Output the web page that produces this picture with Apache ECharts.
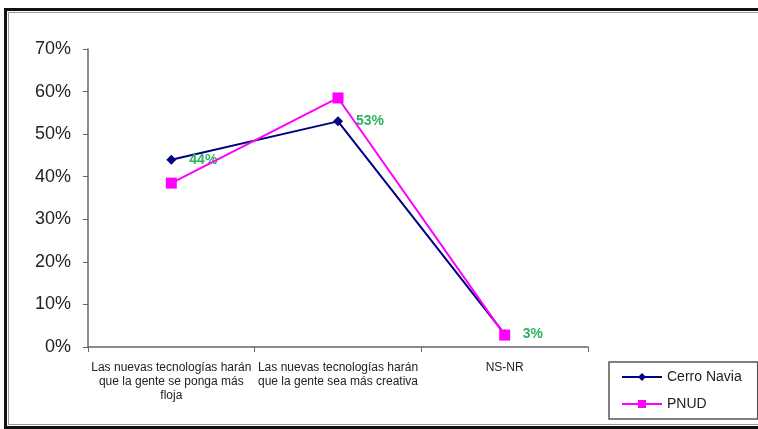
<!DOCTYPE html>
<html>
<head>
<meta charset="utf-8">
<script src="https://cdn.jsdelivr.net/npm/echarts@6/dist/echarts.min.js"></script>
<style>
html,body{margin:0;padding:0;background:#fff;}
#chart{width:758px;height:429px;}
</style>
</head>
<body>
<div id="chart"></div>
<script>
var categories = [
  'Las nuevas tecnologías harán\nque la gente se ponga más\nfloja',
  'Las nuevas tecnologías harán\nque la gente sea más creativa',
  'NS-NR'
];
var cerroNavia = [0.44, 0.53, 0.03];
var pnud = [0.385, 0.585, 0.028];
var yTicks = [0, 0.1, 0.2, 0.3, 0.4, 0.5, 0.6, 0.7];

var chart = echarts.init(document.getElementById('chart'));
chart.setOption({
  animation: false,
  backgroundColor: '#fff',
  textStyle: { fontFamily: 'Liberation Sans, Arial, sans-serif' },
  graphic: [
    { type: 'rect', shape: { x: 5.5, y: 9.5, width: 800, height: 418 }, style: { fill: null, stroke: '#111', lineWidth: 3 }, z: 10 },
    { type: 'rect', shape: { x: 8.5, y: 12.5, width: 800, height: 412 }, style: { fill: null, stroke: '#999', lineWidth: 1 }, z: 10 }
  ],
  grid: { left: 88, right: 170, top: 49, bottom: 82, containLabel: false },
  legend: {
    left: 609, top: 362,
    orient: 'vertical',
    padding: [8, 16, 8, 12],
    itemGap: 13,
    itemWidth: 40, itemHeight: 10,
    borderColor: '#555', borderWidth: 1.5,
    textStyle: { fontSize: 14, color: '#222' },
    data: ['Cerro Navia', 'PNUD']
  },
  xAxis: {
    type: 'category',
    data: categories,
    boundaryGap: true,
    axisLine: { lineStyle: { color: '#666', width: 1.5 } },
    axisTick: { show: true, alignWithLabel: false, length: 5, lineStyle: { color: '#666' } },
    axisLabel: { interval: 0, fontSize: 12, color: '#222', lineHeight: 14, margin: 14 },
    splitLine: { show: false }
  },
  yAxis: {
    type: 'value',
    min: 0, max: 0.7, interval: 0.1,
    axisLine: { show: true, lineStyle: { color: '#666', width: 1.5 } },
    axisTick: { show: true, length: 5, lineStyle: { color: '#666' } },
    axisLabel: {
      fontSize: 18, color: '#222', margin: 17,
      formatter: function (v) { return Math.round(v * 100) + '%'; }
    },
    splitLine: { show: false }
  },
  series: [
    {
      name: 'Cerro Navia',
      type: 'line',
      data: cerroNavia,
      color: '#000080',
      symbol: 'diamond', symbolSize: 10,
      lineStyle: { width: 2, color: '#000080' },
      itemStyle: { color: '#000080' },
      z: 2,
      label: {
        show: true, position: 'right', distance: 13,
        color: '#2db35d', fontSize: 14, fontWeight: 'bold',
        formatter: function (p) { return Math.round(p.value * 100) + '%'; }
      }
    },
    {
      name: 'PNUD',
      type: 'line',
      data: pnud,
      color: '#ff00ff',
      symbol: 'rect', symbolSize: 11,
      lineStyle: { width: 2, color: '#ff00ff' },
      itemStyle: { color: '#ff00ff' },
      z: 3
    }
  ]
});
</script>
</body>
</html>
